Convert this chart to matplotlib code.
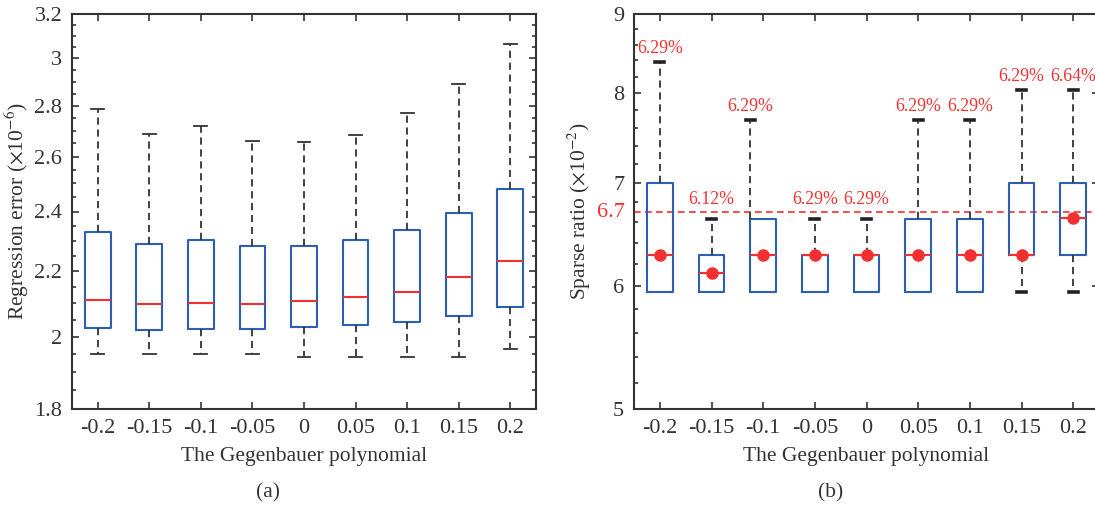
import matplotlib
matplotlib.use("Agg")
import matplotlib.pyplot as plt
import matplotlib.ticker as mticker
import matplotlib.transforms as mtransforms
import numpy as np

plt.rcParams['font.family'] = ['Liberation Serif', 'DejaVu Serif']
plt.rcParams['mathtext.fontset'] = 'stix'
plt.rcParams['text.color'] = '#262626'

# ----- data -----
gegen_labels = ['-0.2', '-0.15', '-0.1', '-0.05', '0', '0.05', '0.1', '0.15', '0.2']

# (a) regression error (x 1e-6)
err_whislo = [1.949, 1.949, 1.949, 1.949, 1.941, 1.941, 1.941, 1.941, 1.963]
err_q1     = [2.025, 2.020, 2.023, 2.023, 2.027, 2.033, 2.042, 2.062, 2.088]
err_med    = [2.111, 2.098, 2.101, 2.098, 2.108, 2.120, 2.134, 2.182, 2.234]
err_q3     = [2.330, 2.290, 2.303, 2.283, 2.283, 2.301, 2.337, 2.394, 2.480]
err_whishi = [2.788, 2.687, 2.717, 2.661, 2.657, 2.681, 2.772, 2.889, 3.063]

# (b) sparse ratio (x 1e-2)
sp_whislo = [5.95, 5.95, 5.95, 5.95, 5.95, 5.95, 5.95, 5.95, 5.95]
sp_q1     = [5.95, 5.95, 5.95, 5.95, 5.95, 5.95, 5.95, 6.29, 6.29]
sp_med    = [6.29, 6.12, 6.29, 6.29, 6.29, 6.29, 6.29, 6.29, 6.64]
sp_q3     = [7.00, 6.29, 6.63, 6.29, 6.29, 6.63, 6.63, 7.00, 7.00]
sp_whishi = [8.38, 6.63, 7.69, 6.63, 6.63, 7.69, 7.69, 8.04, 8.04]
sp_threshold = 6.7

# ----- styling -----
BLUE = '#2c5fb3'
RED = '#f23030'
DARK = '#333333'
TICK_FS = 16
LABEL_FS = 15.5

W, H = 1095, 508
fig = plt.figure(figsize=(W / 100, H / 100), dpi=100)


def make_stats(lo, q1, med, q3, hi):
    stats = []
    for i in range(len(med)):
        stats.append({'whislo': lo[i], 'q1': q1[i], 'med': med[i],
                      'q3': q3[i], 'whishi': hi[i], 'fliers': []})
    return stats


def style_axes(ax, majors, minors, ylim):
    ax.set_yscale('log')
    ax.set_ylim(*ylim)
    ax.set_xlim(0.5, 9.5)
    ax.yaxis.set_major_locator(mticker.FixedLocator(majors))
    ax.yaxis.set_minor_locator(mticker.FixedLocator(minors))
    ax.yaxis.set_major_formatter(mticker.FuncFormatter(lambda v, p: '%g' % v))
    ax.yaxis.set_minor_formatter(mticker.NullFormatter())
    ax.set_xticks(range(1, 10))
    ax.set_xticklabels(gegen_labels)
    ax.tick_params(which='both', direction='in', top=True, right=True,
                   color=DARK, labelcolor=DARK, labelsize=TICK_FS, width=1.2)
    ax.tick_params(which='major', length=5, pad=7)
    ax.tick_params(which='minor', length=3)
    ax.tick_params(axis='x', which='minor', top=False, bottom=False)
    for s in ax.spines.values():
        s.set_color(DARK)
        s.set_linewidth(1.5)
    ax.set_xlabel('The Gegenbauer polynomial', fontsize=LABEL_FS, color=DARK)


dash = (0, (4, 2.6))
pos = np.arange(1, 10)

# ----- (a) -----
ax1 = fig.add_axes([72 / W, 1 - 409 / H, 464 / W, 395 / H])
ax1.bxp(make_stats(err_whislo, err_q1, err_med, err_q3, err_whishi),
        positions=pos, widths=0.5, showfliers=False,
        boxprops=dict(color=BLUE, linewidth=1.5),
        medianprops=dict(color=RED, linewidth=1.5),
        whiskerprops=dict(color=DARK, linewidth=1.3, linestyle=dash),
        capprops=dict(color=DARK, linewidth=1.3), capwidths=0.25)
style_axes(ax1, [1.8, 2, 2.2, 2.4, 2.6, 2.8, 3, 3.2],
           np.arange(1.8, 3.2001, 0.05), (1.8, 3.2))
ax1.set_ylabel(r'Regression error ($\times$10$^{-6}$)', fontsize=LABEL_FS, color=DARK)
ax1.yaxis.set_label_coords(-0.088, 0.5)
ax1.xaxis.set_label_coords(0.5, -0.097)

# ----- (b) -----
ax2 = fig.add_axes([634 / W, 1 - 409 / H, 465 / W, 395 / H])
bp = ax2.bxp(make_stats(sp_whislo, sp_q1, sp_med, sp_q3, sp_whishi),
             positions=pos, widths=0.5, showfliers=False,
             boxprops=dict(color=BLUE, linewidth=1.5),
             medianprops=dict(color=RED, linewidth=1.5),
             whiskerprops=dict(color=DARK, linewidth=1.3, linestyle=dash),
             capprops=dict(color='#222222', linewidth=2.6), capwidths=0.17)
# hide zero-length lower whiskers / caps
for i in range(9):
    if sp_whislo[i] >= sp_q1[i]:
        bp['caps'][2 * i].set_visible(False)
        bp['whiskers'][2 * i].set_visible(False)
# the -0.1 upper whisker sits on the left edge of its box in the original
bp['whiskers'][5].set_xdata(np.array(bp['whiskers'][5].get_xdata()) - 0.25)
bp['caps'][5].set_xdata(np.array(bp['caps'][5].get_xdata()) - 0.25)

ax2.plot(pos, sp_med, 'o', color=RED, markersize=8, zorder=5)
ax2.axhline(sp_threshold, color=RED, linestyle=(0, (4, 2.6)), linewidth=1.2, zorder=1)

trans = mtransforms.blended_transform_factory(ax2.transAxes, ax2.transData)
ax2.text(-0.019, sp_threshold, '6.7', transform=trans, ha='right', va='center',
         color=RED, fontsize=TICK_FS)

for i in range(9):
    xw = np.mean(bp['caps'][2 * i + 1].get_xdata())
    anchor = max(sp_whishi[i], sp_threshold)
    ax2.annotate('%.2f%%' % sp_med[i], (xw, anchor), xytext=(0, 9.5),
                 textcoords='offset points', ha='center', va='center',
                 color=RED, fontsize=12.8)

style_axes(ax2, [5, 6, 7, 8, 9], np.arange(5, 9.001, 0.2), (5, 9))
ax2.set_ylabel(r'Sparse ratio ($\times$10$^{-2}$)', fontsize=LABEL_FS, color=DARK)
ax2.yaxis.set_label_coords(-0.088, 0.5)
ax2.xaxis.set_label_coords(0.5, -0.097)

fig.text(268 / W, 1 - 493 / H, '(a)', ha='center', va='center', fontsize=LABEL_FS, color=DARK)
fig.text(831 / W, 1 - 493 / H, '(b)', ha='center', va='center', fontsize=LABEL_FS, color=DARK)

fig.savefig('out.png', dpi=100)
